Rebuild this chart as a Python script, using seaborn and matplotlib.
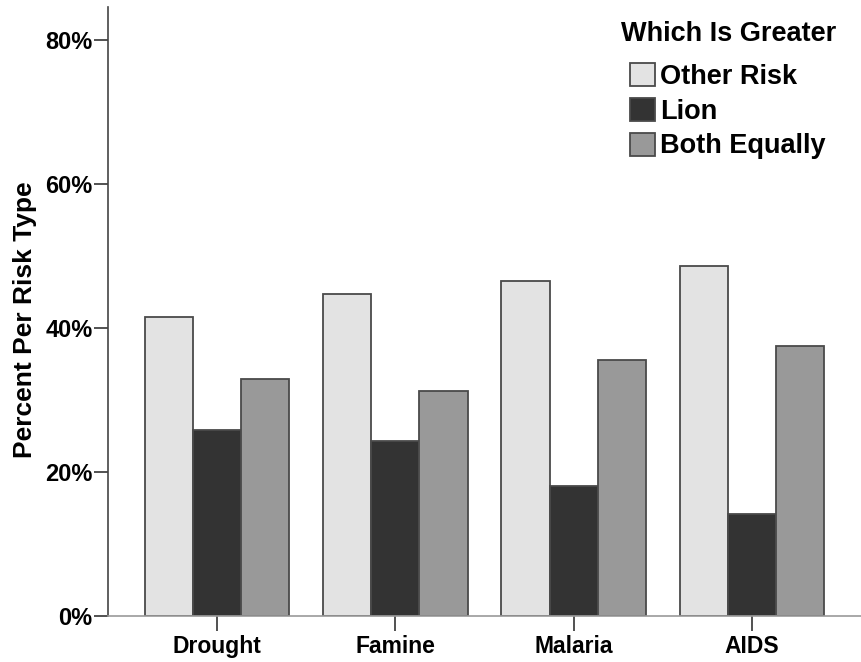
import matplotlib
matplotlib.use('Agg')
import matplotlib.pyplot as plt
from matplotlib.ticker import PercentFormatter
import seaborn as sns
import pandas as pd

# values (percent per risk type)
risk_types = ['Drought', 'Famine', 'Malaria', 'AIDS']
groups = ['Other Risk', 'Lion', 'Both Equally']
other_risk = [41.5, 44.7, 46.5, 48.6]
lion = [25.8, 24.3, 18.1, 14.1]
both_equally = [32.9, 31.3, 35.6, 37.5]
group_colors = ['#e3e3e3', '#333333', '#999999']

df = pd.DataFrame({
    'risk': risk_types * 3,
    'greater': [g for g in groups for _ in risk_types],
    'pct': other_risk + lion + both_equally,
})

sns.set_style('white')
plt.rcParams['font.family'] = ['Liberation Sans', 'DejaVu Sans']
plt.rcParams['font.weight'] = 'bold'
plt.rcParams['text.color'] = 'black'
plt.rcParams['axes.labelcolor'] = 'black'
plt.rcParams['xtick.color'] = 'black'
plt.rcParams['ytick.color'] = 'black'

W, H = 862, 662
fig = plt.figure(figsize=(W / 100, H / 100), dpi=100)
ax = fig.add_axes([0.1253, 0.0695, 0.8735, 0.92])

sns.barplot(data=df, x='risk', y='pct', hue='greater', order=risk_types,
            hue_order=groups, palette=group_colors, width=0.81, gap=0,
            edgecolor='#4a4a4a', linewidth=1.3, ax=ax)

ax.set_xlim(-0.61, 3.61)
ax.set_ylim(0, 84.6)
ax.set_yticks([0, 20, 40, 60, 80])
ax.yaxis.set_major_formatter(PercentFormatter(decimals=0))
ax.set_xlabel('')
ax.set_ylabel('Percent Per Risk Type', fontsize=19, fontweight='bold')
ax.yaxis.set_label_coords(-0.094, 0.486)

sns.despine(ax=ax)
ax.spines['left'].set_color('#444444')
ax.spines['bottom'].set_color('#999999')
ax.spines['left'].set_linewidth(1.2)
ax.spines['bottom'].set_linewidth(1.2)
ax.tick_params(axis='y', direction='out', length=10, width=1.2, color='#333333',
               labelsize=17, pad=1, left=True)
ax.tick_params(axis='x', direction='out', length=11, width=1.2, color='#333333',
               labelsize=16.5, pad=3, bottom=True)
for lbl in ax.get_xticklabels() + ax.get_yticklabels():
    lbl.set_fontweight('bold')

# legend title drawn separately so it sits left of the indented entries
fig.text(621 / W, 1 - 34 / H, 'Which Is Greater', fontsize=19.5, fontweight='bold',
         ha='left', va='center')
leg = ax.legend(loc='upper left', bbox_to_anchor=(630 / W, 1 - 63 / H),
                bbox_transform=fig.transFigure,
                frameon=False, fontsize=19.5, borderpad=0, borderaxespad=0,
                handlelength=0.92, handleheight=0.92, handletextpad=0.2,
                labelspacing=0.3)
for h in leg.legend_handles:
    h.set_edgecolor('#4a4a4a')
    h.set_linewidth(1.3)

fig.savefig('out.png', dpi=100)
